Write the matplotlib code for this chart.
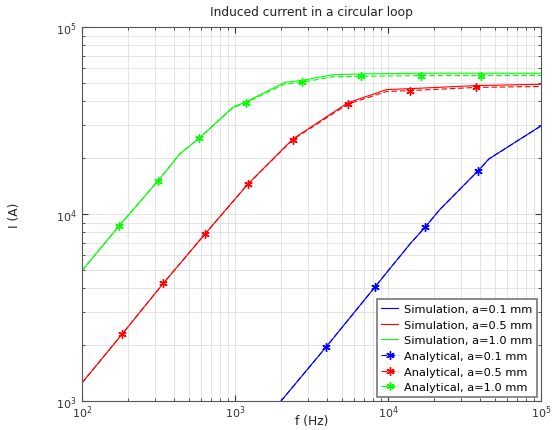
import numpy as np
import matplotlib
matplotlib.use("Agg")
import matplotlib.pyplot as plt

# simulation curves
f_sim_01 = [2000, 3940, 8220, 14000, 17500, 21900, 38700, 45700, 100000]
I_sim_01 = [1000, 1945, 4070, 6950, 8510, 10600, 16980, 19700, 29600]
f_sim_05 = [100, 183, 340, 637, 1210, 2390, 5460, 9790, 13900, 37400, 100000]
I_sim_05 = [1250, 2280, 4260, 7820, 14400, 25200, 39300, 46300, 46800, 48600, 49400]
f_sim_10 = [100, 175, 315, 437, 585, 970, 1180, 2120, 2730, 4370, 6670, 16400, 40300, 100000]
I_sim_10 = [4980, 8650, 15100, 21000, 25500, 37300, 39800, 50600, 51800, 55600, 56100, 56600, 56600, 56600]

# analytical curves
f_ana_01 = [2000, 3940, 8220, 14000, 17500, 21900, 38700, 45700, 100000]
I_ana_01 = [1000, 1945, 4070, 6950, 8510, 10600, 16980, 19700, 29600]
f_ana_05 = [100, 183, 340, 637, 1210, 2390, 5460, 9790, 13900, 37400, 100000]
I_ana_05 = [1250, 2280, 4260, 7820, 14400, 25000, 38700, 45200, 45700, 47500, 48100]
f_ana_10 = [100, 175, 315, 437, 585, 970, 1180, 2120, 2730, 4370, 6670, 16400, 40300, 100000]
I_ana_10 = [4980, 8650, 15100, 21000, 25500, 37000, 39400, 49600, 50600, 54200, 54500, 55000, 55000, 55100]

# which analytical points carry a marker
marks_01 = [1, 2, 4, 6]
marks_05 = [1, 2, 3, 4, 5, 6, 8, 9]
marks_10 = [1, 2, 4, 6, 8, 10, 11, 12]

fig = plt.figure(figsize=(5.52, 4.31), dpi=100)
ax = fig.add_axes([0.1486, 0.0673, 0.8314, 0.8677])

lw = 0.8
ax.plot(f_sim_01, I_sim_01, color="#0000ff", lw=lw, label="Simulation, a=0.1 mm")
ax.plot(f_sim_05, I_sim_05, color="#ff0000", lw=lw, label="Simulation, a=0.5 mm")
ax.plot(f_sim_10, I_sim_10, color="#00ff00", lw=lw, label="Simulation, a=1.0 mm")

mk = dict(marker=(6, 2, 0), markersize=6, markeredgewidth=1.0, ls="--", lw=lw,
          dashes=(5, 2.5))
ax.plot(f_ana_01, I_ana_01, color="#0000ff", label="Analytical, a=0.1 mm", markevery=marks_01, **mk)
ax.plot(f_ana_05, I_ana_05, color="#ff0000", label="Analytical, a=0.5 mm", markevery=marks_05, **mk)
ax.plot(f_ana_10, I_ana_10, color="#00ff00", label="Analytical, a=1.0 mm", markevery=marks_10, **mk)

ax.set_xscale("log")
ax.set_yscale("log")
ax.set_xlim(100, 1e5)
ax.set_ylim(1e3, 1e5)

ax.grid(True, which="both", color="#e3e3e3", lw=0.7)
ax.set_axisbelow(True)
ax.tick_params(which="both", direction="in", top=True, right=True, labelsize=8,
               colors="#333333")
ax.tick_params(axis="x", pad=2)
ax.tick_params(axis="y", pad=4)
ax.tick_params(which="major", length=4)
ax.tick_params(which="minor", length=2.5)
for s in ax.spines.values():
    s.set_color("#555555")

ax.set_title("Induced current in a circular loop", fontsize=8.8, color="#222222", pad=9)
ax.set_xlabel("f (Hz)", fontsize=8.8, color="#222222")
ax.set_ylabel("I (A)", fontsize=8.8, color="#222222")
ax.xaxis.set_label_coords(0.5, -0.036)
ax.yaxis.set_label_coords(-0.133, 0.5)

leg = ax.legend(loc="lower right", fontsize=8.2, fancybox=False, framealpha=1,
                edgecolor="#777777", handlelength=1.5, borderaxespad=0.35,
                labelspacing=0.5, handletextpad=0.5)
leg.get_frame().set_linewidth(1.2)

fig.savefig("out.png", dpi=100)
